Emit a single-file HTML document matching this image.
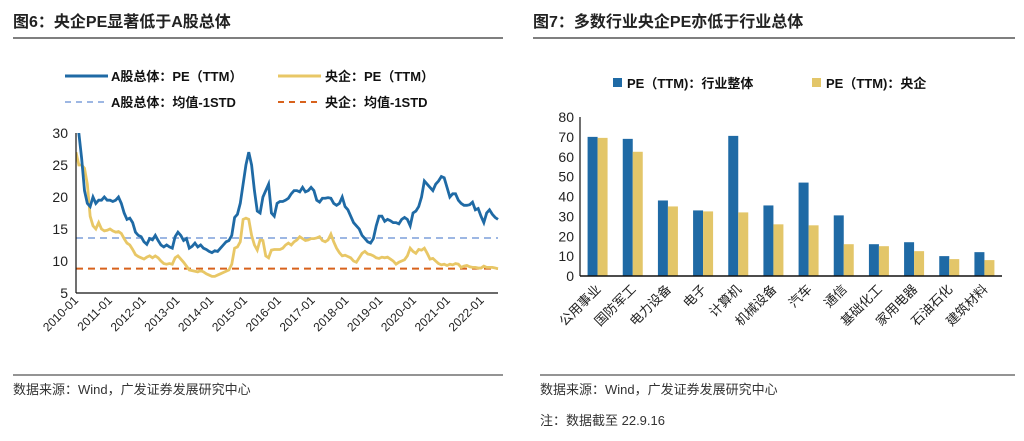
<!DOCTYPE html>
<html><head><meta charset="utf-8"><style>
body{margin:0;background:#fff;width:1024px;height:436px;overflow:hidden}
svg{font-family:"Liberation Sans","Noto Sans CJK SC",sans-serif}
</style></head><body>
<svg width="1024" height="436" viewBox="0 0 1024 436">
<g>
<text x="13" y="27" font-size="16" font-weight="bold" fill="#222">图6：央企PE显著低于A股总体</text>
<line x1="13" y1="38" x2="503" y2="38" stroke="#555" stroke-width="1.5"/>
</g>
<g>
<text x="533" y="27" font-size="16" font-weight="bold" fill="#222">图7：多数行业央企PE亦低于行业总体</text>
<line x1="533" y1="38" x2="1015" y2="38" stroke="#555" stroke-width="1.5"/>
</g>
<g font-size="13" font-weight="bold" fill="#111">
<line x1="65" y1="76" x2="108" y2="76" stroke="#1f6aa5" stroke-width="3"/>
<text x="111" y="81">A股总体：PE（TTM）</text>
<line x1="278" y1="76" x2="321" y2="76" stroke="#e8c766" stroke-width="3"/>
<text x="325" y="81">央企：PE（TTM）</text>
<line x1="65" y1="102" x2="108" y2="102" stroke="#9db7e3" stroke-width="2" stroke-dasharray="6,5"/>
<text x="111" y="107">A股总体：均值-1STD</text>
<line x1="278" y1="102" x2="321" y2="102" stroke="#d8621c" stroke-width="2" stroke-dasharray="6,5"/>
<text x="325" y="107">央企：均值-1STD</text>
</g>
<g id="left"></g>
<g font-size="13" font-weight="bold" fill="#111">
<rect x="613" y="78" width="9" height="9" fill="#1f6aa5"/>
<text x="627" y="88">PE（TTM)：行业整体</text>
<rect x="812" y="78" width="9" height="9" fill="#e3c669"/>
<text x="826" y="88">PE（TTM)：央企</text>
</g>
<g id="right"></g>
<g font-size="13" fill="#333">
<line x1="13" y1="375" x2="503" y2="375" stroke="#555" stroke-width="1.2"/>
<line x1="540" y1="375" x2="1015" y2="375" stroke="#555" stroke-width="1.2"/>
<text x="13" y="394">数据来源：Wind，广发证券发展研究中心</text>
<text x="540" y="394">数据来源：Wind，广发证券发展研究中心</text>
<text x="540" y="425">注：数据截至 22.9.16</text>
</g>
</svg>
<script>
const yearLabels=["2010-01","2011-01","2012-01","2013-01","2014-01","2015-01","2016-01","2017-01","2018-01","2019-01","2020-01","2021-01","2022-01"];
const yTicksL=[5,10,15,20,25,30];
const aShare=[32,30,26,21,19,18.5,20,19,19.5,19.5,20,19.5,
19.5,19.3,19.5,20,19,17.5,16.5,16.7,16,14.5,14,13.8,
13,12.6,13.5,13.3,14,13.2,12.5,12.2,12.5,12.2,12,13.8,
14.5,14,13.2,13.5,12,12.3,12.8,12.2,12.5,12,11.8,11.5,
11.3,11.6,11.5,12,12.5,13,13.2,14,16.8,17.3,19,22,
25,27,25,21,17.8,17.5,20,21,22,17.5,17,19,
19.3,19.3,19.5,19.8,20.5,21,21,20.8,21.5,20.8,21,21.5,
21,19.5,19.2,19.8,19.8,19.9,19.8,19,18.7,19,20,18.5,
18,17,16,15.5,15,14,13.5,13,12.8,13.5,15.5,17,
17,16.2,16.5,16.3,16,16,15.8,16.5,16.8,16.5,15.5,17.5,
17.8,18.5,20,22.5,22,21.5,21,22,22.5,23.2,23,21.5,
20,20.5,20.5,19.5,19,18.7,18.7,18.8,19.2,18,18.2,17,
16,17.5,18,17.3,16.8,16.5];
const soe=[27,25,25,24.5,22,17,15.5,15,16,15,14.7,14.8,
15,14.7,14.5,14.6,14.3,13.5,12.8,12.5,11.8,11,10.7,10.5,
10.3,10.6,10.8,10.5,10.8,10.5,10,9.6,9.5,9.6,9.5,10.5,
10.8,10.3,9.8,9.2,8.6,8.5,8.4,8.3,8.5,8.3,8,7.8,
7.6,7.6,7.8,8,8.2,8.4,8.6,9.5,12,12.2,13,16.5,
16.7,16.5,14,12.5,11.7,13.3,13.2,10.8,10.5,11.7,11.8,11.8,
11.8,12,12.5,12.8,12.5,13,13.3,13.8,13.5,13.2,13.3,13.5,
13.5,13.6,13.8,13.2,13,13.3,14.2,13,12,11.3,10.8,10.9,
10.7,10.5,10,9.8,10.5,11.2,11.5,11.1,11,10.8,10.5,10.4,
10.6,10.5,10.6,10.3,10,9.5,9.8,10,10.2,10.8,12,11.5,
11.2,11.8,11.7,12,11.2,10.3,10.4,10,9.6,9.4,9.5,9.3,
9.5,9.4,9.6,9.5,9,9.2,9.3,9.1,9,9,8.9,8.9,
9.2,9,9,9,8.9,8.8];
const aShareStd=[13.6];
const soeStd=[8.8];

const categories=["公用事业","国防军工","电力设备","电子","计算机","机械设备","汽车","通信","基础化工","家用电器","石油石化","建筑材料"];
const industryPE=[70,69,38,33,70.5,35.5,47,30.5,16,17,10,12];
const soePE=[69.5,62.5,35,32.5,32,26,25.5,16,15,12.5,8.5,8];
const yTicksR=[0,10,20,30,40,50,60,70,80];

const NS="http://www.w3.org/2000/svg";
function mk(p,t,a){const e=document.createElementNS(NS,t);for(const k in a)e.setAttribute(k,a[k]);p.appendChild(e);return e;}

const L=document.getElementById('left');
const lx0=76,lx1=498,ly0=293,ly1=133;
const yL=v=>ly0-(v-5)/(30-5)*(ly0-ly1);
const n=aShare.length;
const xL=i=>lx0+i*(lx1-lx0)/(n-1);
const xYear=k=>79+k*33.8;
(function(){const c=mk(L,'clipPath',{id:'lc'});mk(c,'rect',{x:lx0,y:ly1,width:lx1-lx0+4,height:ly0-ly1});})();
yTicksL.forEach(t=>{
 const tx=mk(L,'text',{x:lx0-8,y:yL(t)+5,'text-anchor':'end','font-size':14,fill:'#222'});tx.textContent=t;
 
 
});
const d1=mk(L,'line',{x1:lx0,y1:yL(aShareStd[0]),x2:lx1,y2:yL(aShareStd[0]),stroke:'#9db7e3','stroke-width':2,'stroke-dasharray':'7,5'});


const d2=mk(L,'line',{x1:lx0,y1:yL(soeStd[0]),x2:lx1,y2:yL(soeStd[0]),stroke:'#d8621c','stroke-width':2,'stroke-dasharray':'7,5'});


const p2=mk(L,'polyline',{points:soe.map((v,i)=>xL(i)+','+yL(v)).join(' '),fill:'none',stroke:'#e8c766','stroke-width':2.8,'clip-path':'url(#lc)'});


const p1=mk(L,'polyline',{points:aShare.map((v,i)=>xL(i)+','+yL(v)).join(' '),fill:'none',stroke:'#1f6aa5','stroke-width':2.8,'clip-path':'url(#lc)'});


mk(L,'line',{x1:lx0,y1:ly1,x2:lx0,y2:ly0,stroke:'#111','stroke-width':1.2});
mk(L,'line',{x1:lx0,y1:ly0,x2:lx1,y2:ly0,stroke:'#111','stroke-width':1.2});
yearLabels.forEach((s,k)=>{
 const x=xYear(k),y=ly0+8;
 const t=mk(L,'text',{x:x,y:y,'text-anchor':'end','font-size':12,fill:'#222',transform:`rotate(-45 ${x} ${y})`});t.textContent=s;
 
 
});

const R=document.getElementById('right');
const rx0=580,rx1=1002,ry0=276,ry1=117;
const yR=v=>ry0-v/80*(ry0-ry1);
const band=(rx1-rx0)/categories.length;
const bw=10;
yTicksR.forEach(t=>{
 const tx=mk(R,'text',{x:rx0-6,y:yR(t)+5,'text-anchor':'end','font-size':14,fill:'#222'});tx.textContent=t;
 
 
});
categories.forEach((c,i)=>{
 const cx=rx0+band*(i+0.5);
 const b1=mk(R,'rect',{x:cx-bw,y:yR(industryPE[i]),width:bw,height:ry0-yR(industryPE[i]),fill:'#1f6aa5'});
 
 
 const b2=mk(R,'rect',{x:cx,y:yR(soePE[i]),width:bw,height:ry0-yR(soePE[i]),fill:'#e3c669'});
 
 
 const x=cx+4,y=ry0+14;
 const t=mk(R,'text',{x:x,y:y,'text-anchor':'end','font-size':13,fill:'#222',transform:`rotate(-45 ${x} ${y})`});t.textContent=c;
 
 
});
mk(R,'line',{x1:rx0,y1:ry1,x2:rx0,y2:ry0,stroke:'#111','stroke-width':1.2});
mk(R,'line',{x1:rx0,y1:ry0,x2:rx1,y2:ry0,stroke:'#111','stroke-width':1.5});
</script>
</body></html>
